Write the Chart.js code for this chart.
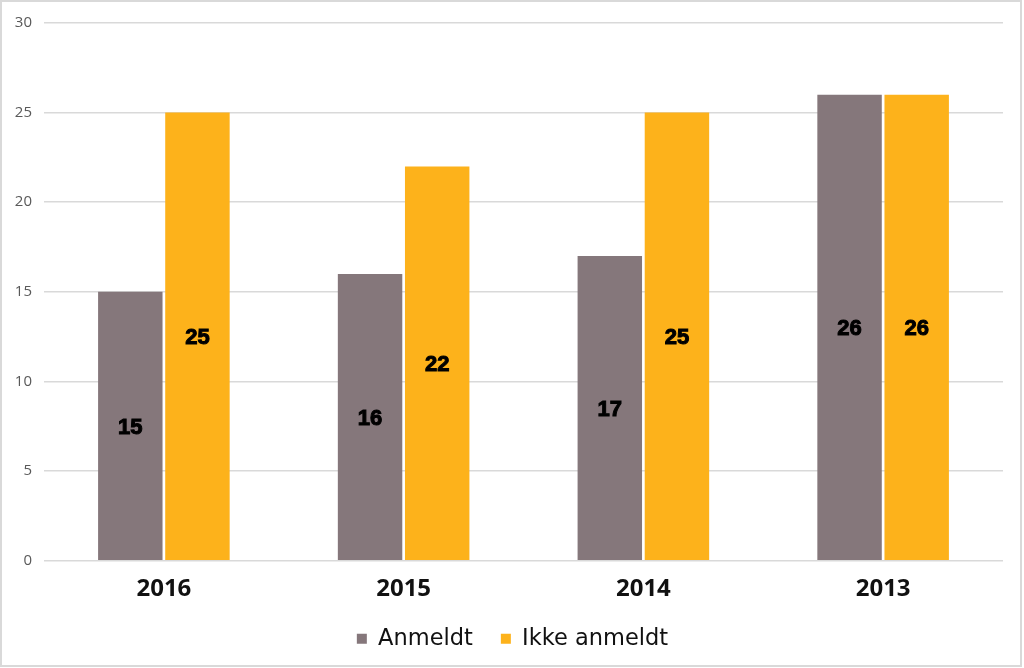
<!DOCTYPE html>
<html>
<head>
<meta charset="utf-8">
<script src="https://cdn.jsdelivr.net/npm/chart.js@4.4.0/dist/chart.umd.min.js"></script>
<style>
  html, body { margin: 0; padding: 0; background: #fff; }
  #wrap { position: absolute; left: 0; top: 0; width: 1018px; height: 663px; border: 2px solid #d9d9d9; background: #fff; }
  canvas { display: block; }
</style>
</head>
<body>
<div id="wrap"><canvas id="chart" width="1018" height="663"></canvas></div>
<script>
const years = ["2016", "2015", "2014", "2013"];
const anmeldt = [15, 16, 17, 26];
const ikkeAnmeldt = [25, 22, 25, 26];
const yTicks = [0, 5, 10, 15, 20, 25, 30];

// ===== Labels centered inside bars =====
const barLabels = {
  id: "barLabels",
  afterLayout(chart) {
    // nudge the legend a little right/up, like the original
    const lg = chart.legend;
    if (lg) { lg.left += 10; lg.right += 10; lg.top -= 2; lg.bottom -= 2; }
  },
  afterDatasetsDraw(chart) {
    const ctx = chart.ctx;
    ctx.save();
    ctx.font = "bold 22px 'Liberation Sans', Arial, sans-serif";
    ctx.fillStyle = "#000";
    ctx.strokeStyle = "#000";
    ctx.lineWidth = 1;
    ctx.textAlign = "center";
    ctx.textBaseline = "middle";
    chart.data.datasets.forEach((ds, i) => {
      chart.getDatasetMeta(i).data.forEach((bar, j) => {
        const y = (bar.y + bar.base) / 2 + 2;
        ctx.strokeText(ds.data[j], bar.x, y);
        ctx.fillText(ds.data[j], bar.x, y);
      });
    });
    ctx.restore();
  }
};

const ctx = document.getElementById("chart").getContext("2d");
new Chart(ctx, {
  type: "bar",
  data: {
    labels: years,
    datasets: [
      { label: "Anmeldt", data: anmeldt, backgroundColor: "#85777b" },
      { label: "Ikke anmeldt", data: ikkeAnmeldt, backgroundColor: "#fdb21b" }
    ]
  },
  options: {
    responsive: false,
    animation: false,
    datasets: { bar: { categoryPercentage: 0.56, barPercentage: 0.96 } },
    layout: { padding: { top: 11, right: 17, left: 0, bottom: 3 } },
    scales: {
      x: {
        afterFit(scale) { scale.height -= 8; },
        grid: { display: false },
        border: { display: false },
        ticks: { color: "#111", font: { family: "'Open Sans', sans-serif", size: 24, weight: "bold" }, padding: 6 }
      },
      y: {
        min: 0, max: 30,
        afterFit(scale) { scale.width = 42; },
        afterBuildTicks(scale) { scale.ticks = yTicks.map(v => ({ value: v })); },
        grid: { color: "#d9d9d9", lineWidth: 1.5, drawTicks: false },
        border: { display: false },
        ticks: { color: "#595959", font: { family: "'Open Sans', sans-serif", size: 15 }, padding: 12 }
      }
    },
    plugins: {
      tooltip: { enabled: false },
      legend: {
        position: "bottom",
        labels: {
          color: "#111",
          boxWidth: 10, boxHeight: 10,
          padding: 28,
          font: { family: "'DejaVu Sans', Verdana, sans-serif", size: 22.5 }
        }
      }
    }
  },
  plugins: [barLabels]
});
</script>
</body>
</html>
